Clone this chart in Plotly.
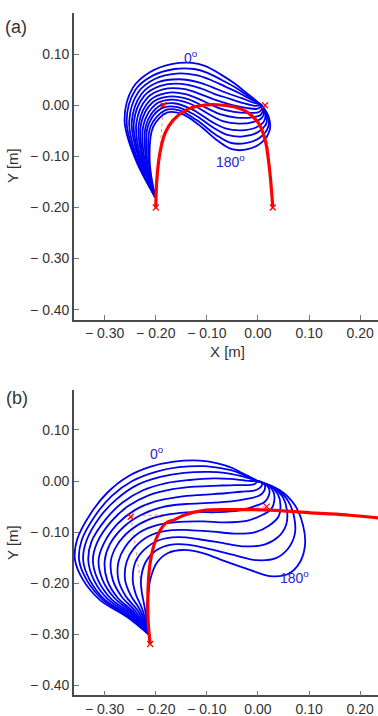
import plotly.graph_objects as go

# ---------------- data ----------------
ANGLES = list(range(0, 181, 15))

# panel (a): blue end-effector paths, one per angle (0..180 deg)
A_BLUE_X = [
    [-0.201,-0.240,-0.261,-0.245,-0.211,-0.167,-0.129,-0.104,-0.074,-0.045,-0.020,-0.006,0.007],
    [-0.201,-0.238,-0.257,-0.240,-0.206,-0.163,-0.125,-0.100,-0.070,-0.041,-0.017,-0.004,0.007],
    [-0.201,-0.236,-0.252,-0.234,-0.201,-0.159,-0.121,-0.096,-0.065,-0.037,-0.013,-0.002,0.007],
    [-0.201,-0.233,-0.247,-0.228,-0.196,-0.154,-0.116,-0.091,-0.061,-0.032,-0.009,0.001,0.007],
    [-0.201,-0.231,-0.243,-0.223,-0.191,-0.150,-0.112,-0.087,-0.056,-0.028,-0.006,0.003,0.007],
    [-0.201,-0.229,-0.238,-0.217,-0.186,-0.146,-0.108,-0.082,-0.052,-0.023,-0.002,0.005,0.007],
    [-0.201,-0.226,-0.233,-0.211,-0.180,-0.142,-0.104,-0.078,-0.047,-0.019,0.002,0.008,0.007],
    [-0.201,-0.224,-0.229,-0.206,-0.175,-0.137,-0.099,-0.073,-0.043,-0.014,0.005,0.010,0.007],
    [-0.201,-0.222,-0.224,-0.200,-0.170,-0.133,-0.095,-0.069,-0.038,-0.010,0.008,0.012,0.007],
    [-0.201,-0.219,-0.219,-0.194,-0.165,-0.129,-0.091,-0.064,-0.034,-0.005,0.012,0.014,0.007],
    [-0.201,-0.217,-0.215,-0.189,-0.160,-0.125,-0.087,-0.060,-0.029,-0.001,0.016,0.016,0.007],
    [-0.201,-0.214,-0.210,-0.182,-0.154,-0.120,-0.082,-0.055,-0.024,0.004,0.020,0.019,0.007],
    [-0.201,-0.212,-0.205,-0.177,-0.149,-0.116,-0.078,-0.051,-0.020,0.008,0.023,0.021,0.007],
]
A_BLUE_Y = [
    [-0.180,-0.105,-0.030,0.034,0.065,0.081,0.083,0.077,0.061,0.042,0.022,0.011,0.000],
    [-0.180,-0.105,-0.031,0.030,0.058,0.071,0.071,0.064,0.049,0.033,0.016,0.008,0.000],
    [-0.180,-0.106,-0.032,0.026,0.052,0.062,0.059,0.051,0.037,0.024,0.011,0.006,0.000],
    [-0.180,-0.106,-0.033,0.022,0.045,0.051,0.045,0.036,0.024,0.014,0.005,0.003,0.000],
    [-0.180,-0.106,-0.034,0.018,0.038,0.042,0.033,0.023,0.013,0.004,-0.001,0.000,0.000],
    [-0.180,-0.106,-0.035,0.014,0.031,0.032,0.020,0.010,0.001,-0.005,-0.007,-0.003,0.000],
    [-0.180,-0.107,-0.036,0.010,0.024,0.022,0.007,-0.005,-0.013,-0.015,-0.013,-0.006,0.000],
    [-0.180,-0.107,-0.037,0.006,0.017,0.012,-0.006,-0.018,-0.024,-0.024,-0.019,-0.009,0.000],
    [-0.180,-0.107,-0.038,0.002,0.011,0.003,-0.018,-0.031,-0.036,-0.033,-0.024,-0.011,0.000],
    [-0.180,-0.107,-0.039,-0.002,0.004,-0.008,-0.032,-0.045,-0.049,-0.044,-0.031,-0.015,0.000],
    [-0.180,-0.108,-0.040,-0.006,-0.003,-0.018,-0.044,-0.058,-0.061,-0.053,-0.036,-0.017,0.000],
    [-0.180,-0.108,-0.041,-0.010,-0.010,-0.029,-0.058,-0.073,-0.074,-0.063,-0.042,-0.020,0.000],
    [-0.180,-0.108,-0.042,-0.014,-0.017,-0.038,-0.070,-0.086,-0.086,-0.072,-0.048,-0.023,0.000],
]
A_RED_X = [-0.200,-0.198,-0.192,-0.182,-0.166,-0.140,-0.114,-0.080,-0.048,-0.022,0.001,0.014,0.022,0.029]
A_RED_Y = [-0.200,-0.146,-0.094,-0.055,-0.029,-0.009,-0.001,0.001,-0.003,-0.013,-0.035,-0.068,-0.120,-0.200]
A_MARK_X = [-0.185, 0.0137, -0.200, 0.029]
A_MARK_Y = [0.000, 0.000, -0.200, -0.200]
A_GUIDES_X = [[-0.185, -0.200], [0.0137, 0.029]]
A_GUIDES_Y = [[0.000, -0.200], [0.000, -0.200]]

# panel (b)
B_BLUE_X = [
    [-0.214,-0.256,-0.309,-0.342,-0.358,-0.354,-0.327,-0.295,-0.256,-0.210,-0.164,-0.114,-0.081,-0.049,-0.032,-0.018,-0.009,-0.002],
    [-0.214,-0.254,-0.304,-0.335,-0.350,-0.345,-0.318,-0.286,-0.246,-0.200,-0.155,-0.105,-0.073,-0.042,-0.026,-0.014,-0.006,-0.002],
    [-0.214,-0.252,-0.300,-0.329,-0.342,-0.336,-0.309,-0.276,-0.237,-0.191,-0.145,-0.097,-0.065,-0.035,-0.020,-0.009,-0.004,-0.002],
    [-0.214,-0.250,-0.294,-0.321,-0.332,-0.326,-0.298,-0.265,-0.225,-0.179,-0.134,-0.086,-0.055,-0.026,-0.013,-0.006,-0.003,-0.002],
    [-0.214,-0.247,-0.288,-0.313,-0.323,-0.315,-0.287,-0.254,-0.214,-0.167,-0.123,-0.076,-0.045,-0.018,-0.007,-0.003,-0.002,-0.002],
    [-0.214,-0.245,-0.281,-0.304,-0.312,-0.302,-0.275,-0.241,-0.201,-0.154,-0.110,-0.064,-0.034,-0.008,0.003,0.008,0.006,-0.002],
    [-0.214,-0.242,-0.275,-0.295,-0.300,-0.290,-0.262,-0.228,-0.187,-0.140,-0.097,-0.052,-0.022,0.002,0.011,0.014,0.010,-0.002],
    [-0.214,-0.239,-0.267,-0.284,-0.288,-0.276,-0.248,-0.213,-0.172,-0.125,-0.082,-0.038,-0.009,0.013,0.021,0.022,0.014,-0.002],
    [-0.214,-0.235,-0.259,-0.273,-0.273,-0.260,-0.232,-0.196,-0.155,-0.107,-0.065,-0.022,0.005,0.026,0.032,0.030,0.019,-0.002],
    [-0.214,-0.231,-0.249,-0.260,-0.257,-0.242,-0.214,-0.177,-0.136,-0.088,-0.046,-0.005,0.022,0.040,0.044,0.039,0.024,-0.002],
    [-0.214,-0.227,-0.239,-0.245,-0.240,-0.222,-0.194,-0.157,-0.115,-0.066,-0.026,0.014,0.040,0.055,0.057,0.049,0.030,-0.002],
    [-0.214,-0.222,-0.227,-0.229,-0.220,-0.201,-0.172,-0.134,-0.092,-0.043,-0.003,0.035,0.059,0.072,0.071,0.059,0.036,-0.002],
    [-0.214,-0.217,-0.214,-0.211,-0.198,-0.176,-0.147,-0.108,-0.065,-0.016,0.023,0.059,0.082,0.092,0.088,0.072,0.043,-0.002],
]
B_BLUE_Y = [
    [-0.300,-0.266,-0.233,-0.194,-0.155,-0.115,-0.063,-0.023,0.008,0.028,0.038,0.040,0.035,0.025,0.016,0.009,0.004,0.000],
    [-0.300,-0.265,-0.232,-0.194,-0.155,-0.116,-0.067,-0.029,0.000,0.018,0.027,0.029,0.025,0.018,0.011,0.006,0.003,0.000],
    [-0.300,-0.264,-0.232,-0.194,-0.156,-0.118,-0.070,-0.035,-0.008,0.008,0.016,0.018,0.016,0.010,0.006,0.003,0.002,0.000],
    [-0.300,-0.262,-0.231,-0.194,-0.156,-0.119,-0.075,-0.042,-0.018,-0.004,0.002,0.005,0.004,0.001,0.000,0.000,0.000,0.000],
    [-0.300,-0.261,-0.230,-0.194,-0.156,-0.121,-0.079,-0.049,-0.028,-0.016,-0.011,-0.009,-0.008,-0.008,-0.006,-0.003,-0.001,0.000],
    [-0.300,-0.259,-0.229,-0.194,-0.156,-0.123,-0.084,-0.057,-0.040,-0.031,-0.027,-0.024,-0.021,-0.019,-0.014,-0.007,-0.002,0.000],
    [-0.300,-0.258,-0.228,-0.194,-0.157,-0.124,-0.089,-0.066,-0.051,-0.045,-0.043,-0.040,-0.035,-0.029,-0.021,-0.011,-0.004,0.000],
    [-0.300,-0.256,-0.226,-0.194,-0.157,-0.126,-0.095,-0.075,-0.065,-0.061,-0.061,-0.058,-0.050,-0.041,-0.029,-0.016,-0.006,0.000],
    [-0.300,-0.254,-0.225,-0.194,-0.158,-0.129,-0.101,-0.086,-0.080,-0.079,-0.081,-0.078,-0.068,-0.055,-0.038,-0.021,-0.008,0.000],
    [-0.300,-0.252,-0.224,-0.194,-0.158,-0.131,-0.108,-0.097,-0.096,-0.099,-0.103,-0.100,-0.087,-0.070,-0.048,-0.026,-0.010,0.000],
    [-0.300,-0.249,-0.222,-0.194,-0.159,-0.134,-0.116,-0.110,-0.114,-0.122,-0.128,-0.124,-0.109,-0.086,-0.060,-0.032,-0.012,0.000],
    [-0.300,-0.246,-0.220,-0.194,-0.159,-0.137,-0.125,-0.125,-0.134,-0.146,-0.155,-0.151,-0.132,-0.104,-0.072,-0.039,-0.015,0.000],
    [-0.300,-0.243,-0.218,-0.194,-0.160,-0.141,-0.135,-0.141,-0.157,-0.174,-0.186,-0.182,-0.159,-0.125,-0.086,-0.047,-0.018,0.000],
]
B_RED_X = [-0.211,-0.215,-0.215,-0.211,-0.200,-0.181,-0.164,-0.145,-0.108,-0.060,0.023,0.115,0.180,0.235]
B_RED_Y = [-0.319,-0.272,-0.207,-0.160,-0.115,-0.083,-0.076,-0.067,-0.058,-0.056,-0.057,-0.063,-0.067,-0.072]
B_MARK_X = [-0.211, -0.249, 0.017]
B_MARK_Y = [-0.319, -0.070, -0.050]
B_GUIDES_X = [[-0.249, -0.211], [-0.249, 0.017]]
B_GUIDES_Y = [[-0.070, -0.319], [-0.070, -0.050]]

X_TICKS = [-0.3, -0.2, -0.1, 0.0, 0.1, 0.2]
X_TICKTEXT = ["\u2212 0.30", "\u2212 0.20", "\u2212 0.10", "0.00", "0.10", "0.20"]
Y_TICKS = [-0.4, -0.3, -0.2, -0.1, 0.0, 0.1]
Y_TICKTEXT = ["\u2212 0.40", "\u2212 0.30", "\u2212 0.20", "\u2212 0.10", "0.00", "0.10"]

# ---------------- figure ----------------
W, H = 378, 716
BLUE = "#0000f0"
RED = "#ff0000"
FONT = "Liberation Sans, Arial, sans-serif"

fig = go.Figure()

def add_panel(bx, by, rx, ry, mx, my, gx, gy, xa, ya):
    for gxi, gyi in zip(gx, gy):
        fig.add_trace(go.Scatter(x=gxi, y=gyi, mode="lines", xaxis=xa, yaxis=ya,
                                 line=dict(color="rgba(255,80,80,0.7)", width=1, dash="dot"),
                                 hoverinfo="skip", showlegend=False))
    for xs, ys in zip(bx, by):
        fig.add_trace(go.Scatter(x=xs, y=ys, mode="lines", xaxis=xa, yaxis=ya,
                                 line=dict(color=BLUE, width=1.8, shape="spline", smoothing=1.0),
                                 hoverinfo="skip", showlegend=False))
    fig.add_trace(go.Scatter(x=rx, y=ry, mode="lines", xaxis=xa, yaxis=ya,
                             line=dict(color=RED, width=3.2, shape="spline", smoothing=1.0),
                             hoverinfo="skip", showlegend=False))
    fig.add_trace(go.Scatter(x=mx, y=my, mode="markers", xaxis=xa, yaxis=ya,
                             marker=dict(symbol="x-thin", size=6, color=RED,
                                         line=dict(color=RED, width=1.2)),
                             hoverinfo="skip", showlegend=False))

add_panel(A_BLUE_X, A_BLUE_Y, A_RED_X, A_RED_Y, A_MARK_X, A_MARK_Y, A_GUIDES_X, A_GUIDES_Y, "x", "y")
add_panel(B_BLUE_X, B_BLUE_Y, B_RED_X, B_RED_Y, B_MARK_X, B_MARK_Y, B_GUIDES_X, B_GUIDES_Y, "x2", "y2")

X_RANGE = [-0.360, 0.2348]
axis_common = dict(showgrid=False, zeroline=False, showline=True, linecolor="#4a4a4a",
                   linewidth=1.6, ticks="inside", ticklen=5, tickwidth=1, tickcolor="#777",
                   tickfont=dict(family=FONT, size=14, color="#333"), mirror=False)

xdom = [74 / W, 1.0]
fig.update_layout(
    width=W, height=H, margin=dict(l=0, r=0, t=0, b=0),
    paper_bgcolor="white", plot_bgcolor="white", showlegend=False,
    xaxis=dict(domain=xdom, range=X_RANGE, tickvals=X_TICKS, ticktext=X_TICKTEXT,
               anchor="y", **axis_common),
    yaxis=dict(domain=[1 - 319.7 / H, 1 - 13 / H], range=[-0.4196, 0.1806],
               tickvals=Y_TICKS, ticktext=Y_TICKTEXT, anchor="x", **axis_common),
    xaxis2=dict(domain=xdom, range=X_RANGE, tickvals=X_TICKS, ticktext=X_TICKTEXT,
                anchor="y2", **axis_common),
    yaxis2=dict(domain=[1 - 695.3 / H, 1 - 390 / H], range=[-0.4194, 0.1781],
                tickvals=Y_TICKS, ticktext=Y_TICKTEXT, anchor="x2", **axis_common),
)

def pann(text, px, py, size, angle=0):
    fig.add_annotation(text=text, x=px / W, y=1 - py / H, xref="paper", yref="paper",
                       showarrow=False, textangle=angle, xanchor="center", yanchor="middle",
                       font=dict(family=FONT, size=size, color="#333"))

pann("(a)", 16, 27, 18)
pann("(b)", 17, 398, 18)
pann("Y [m]", 12, 166, 15, -90)
pann("Y [m]", 12, 543, 15, -90)
pann("X [m]", 227, 352, 15)

def dann(text, x, y, xa, ya):
    fig.add_annotation(text=text, x=x, y=y, xref=xa, yref=ya, showarrow=False,
                       xanchor="center", yanchor="middle",
                       font=dict(family=FONT, size=14, color="#2626d0"))

dann(f"{ANGLES[0]}<sup>o</sup>", -0.131, 0.095, "x", "y")
dann(f"{ANGLES[-1]}<sup>o</sup>", -0.053, -0.109, "x", "y")
dann(f"{ANGLES[0]}<sup>o</sup>", -0.198, 0.055, "x2", "y2")
dann(f"{ANGLES[-1]}<sup>o</sup>", 0.071, -0.187, "x2", "y2")

fig.write_html("out.html")
